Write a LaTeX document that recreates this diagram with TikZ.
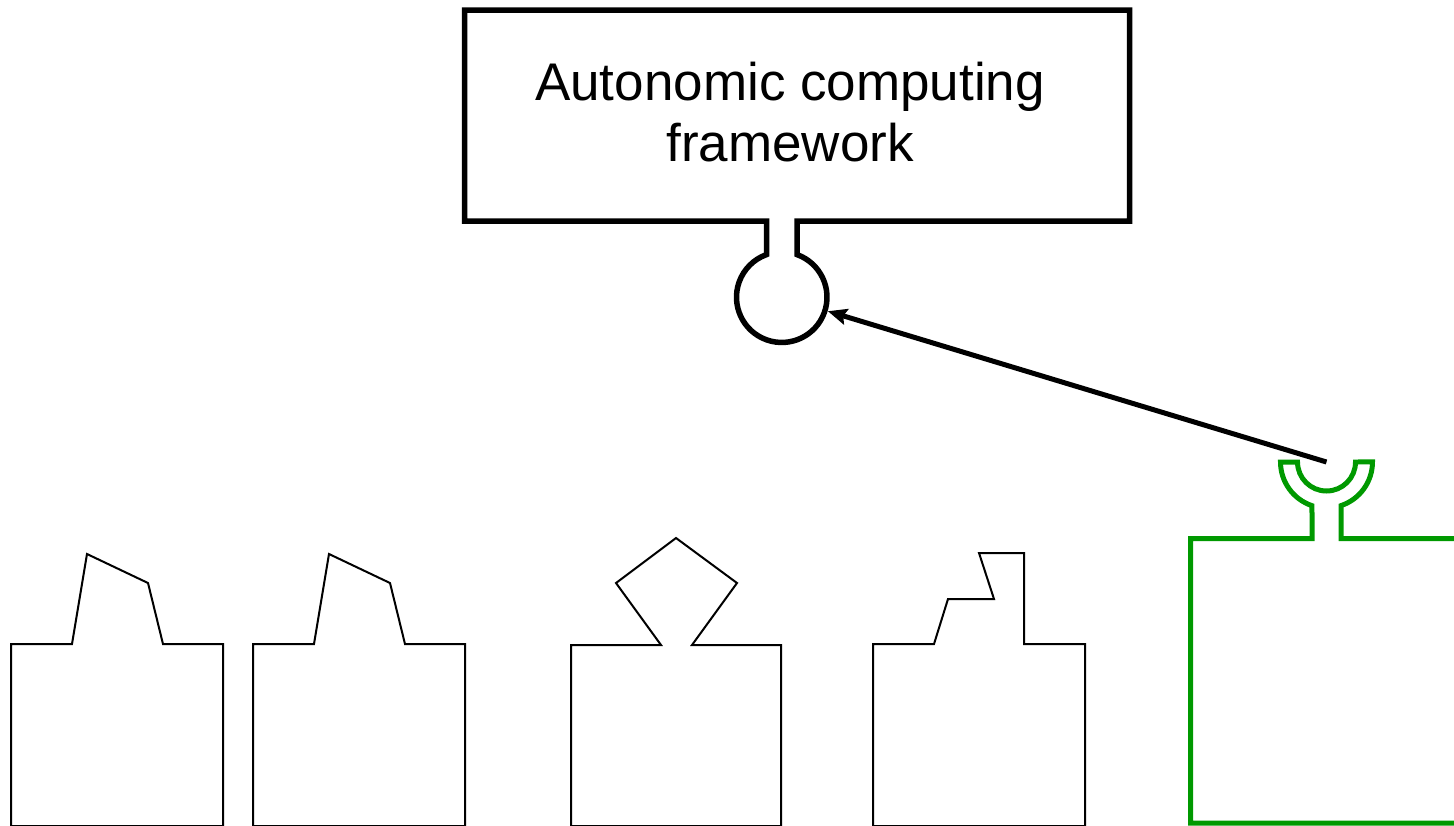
\documentclass[tikz,border=0pt]{standalone}
\usepackage{fontspec}
\setmainfont{Liberation Sans}
\usetikzlibrary{arrows.meta}
\definecolor{grn}{RGB}{0,153,0}
\begin{document}
\begin{tikzpicture}[x=1pt,y=1pt,
  frame/.style={draw=black,line width=5.5pt,line join=miter},
  plugshape/.style={draw=grn,line width=5pt,line join=miter},
  comp/.style={draw=black,line width=2pt,line join=miter},
  link/.style={draw=black,line width=5pt,-{Stealth[length=19pt,width=16pt,inset=3pt]}},
  label/.style={font=\fontsize{53}{62}\selectfont,anchor=base,inner sep=0pt}]
\useasboundingbox (0,0) rectangle (1454,-825);
% framework box with socket
\draw[frame] (766.5,-221) -- (464.5,-221) -- (464.5,-10) -- (1129.5,-10) -- (1129.5,-221) -- (797,-221) -- (797,-254.6)
  arc[start angle=70.3,end angle=-250.3,radius=45.25] -- cycle;
\node[label] (t1) at (790,-100) {Autonomic computing};
\node[label] (t2) at (790,-161) {framework};
\node[circle,minimum size=96pt,inner sep=0pt] (sock) at (781.75,-297.25) {};
% green component with plug
\draw[plugshape] (1460,-538.5) -- (1341,-538.5) -- (1341,-505.6)
  arc[start angle=-71.6,end angle=0,radius=46] -- (1355.5,-462)
  arc[start angle=0,end angle=-180,radius=29] -- (1280.5,-462)
  arc[start angle=180,end angle=251.6,radius=46] -- (1312,-538.5) -- (1190.5,-538.5) -- (1190.5,-823) -- (1460,-823);
\coordinate (plug) at (1326.5,-462);
\draw[link] (plug) -- (sock);
% other components
\draw[comp] (11,-826) -- (11,-644) -- (72,-644) -- (87,-554) -- (148,-583) -- (163,-644) -- (223,-644) -- (223,-826) -- cycle;
\draw[comp] (253,-826) -- (253,-644) -- (314,-644) -- (329,-554) -- (390,-583) -- (405,-644) -- (465,-644) -- (465,-826) -- cycle;
\draw[comp] (571,-826) -- (571,-645) -- (661,-645) -- (616,-583) -- (676,-538) -- (737,-583) -- (692,-645) -- (781,-645) -- (781,-826) -- cycle;
\draw[comp] (873,-826) -- (873,-644) -- (934,-644) -- (948,-599) -- (994,-599) -- (979,-553) -- (1024,-553) -- (1024,-644) -- (1085,-644) -- (1085,-826) -- cycle;
\end{tikzpicture}
\end{document}
